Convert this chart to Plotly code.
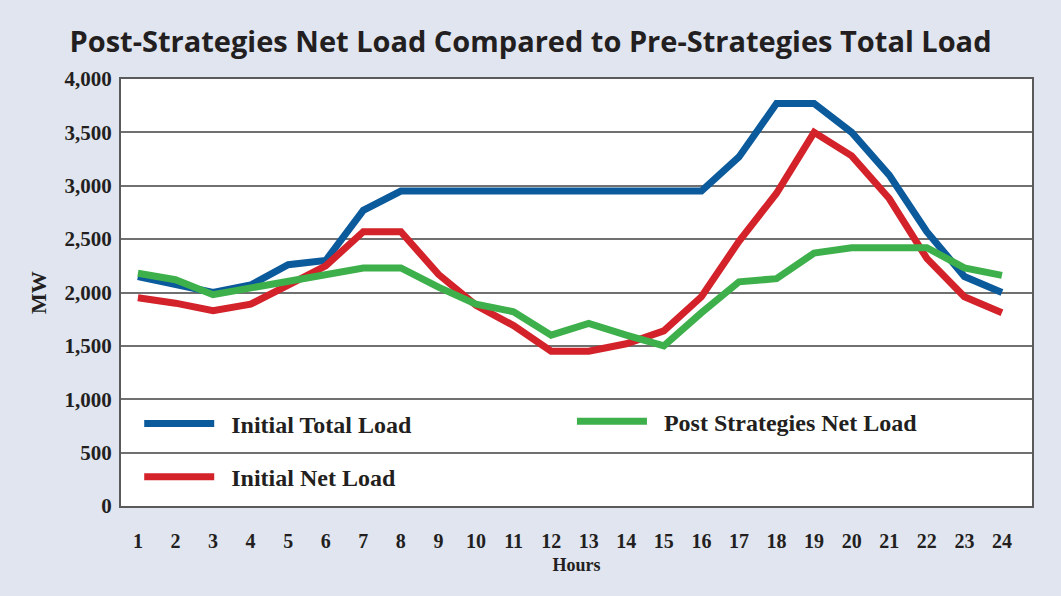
import plotly.graph_objects as go

hours = list(range(1, 25))
initial_total = [2150, 2070, 2000, 2070, 2260, 2300, 2770, 2950, 2950, 2950, 2950, 2950,
                 2950, 2950, 2950, 2950, 3270, 3770, 3770, 3500, 3100, 2570, 2150, 2000]
initial_net = [1950, 1900, 1830, 1890, 2070, 2250, 2570, 2570, 2170, 1880, 1690, 1450,
               1450, 1520, 1640, 1960, 2480, 2930, 3500, 3280, 2880, 2320, 1960, 1810]
post_net = [2180, 2120, 1980, 2040, 2110, 2160, 2230, 2230, 2050, 1890, 1820, 1600,
            1710, 1600, 1500, 1810, 2100, 2130, 2370, 2420, 2420, 2420, 2230, 2160]
y_ticks = [0, 500, 1000, 1500, 2000, 2500, 3000, 3500, 4000]
y_tick_labels = ["0", "500", "1,000", "1,500", "2,000", "2,500", "3,000", "3,500", "4,000"]

BLUE = "#0b5a9b"
RED = "#d3222a"
GREEN = "#3db04b"
BG = "#e0e5f0"
INK = "#231f20"
SERIF = "Liberation Serif, Times New Roman, serif"

fig = go.Figure()
fig.add_trace(go.Scatter(x=hours, y=initial_total, name="\u2002Initial Total Load", mode="lines",
                         line=dict(color=BLUE, width=7), legend="legend", legendgroup="a"))
fig.add_trace(go.Scatter(x=hours, y=initial_net, name="\u2002Initial Net Load", mode="lines",
                         line=dict(color=RED, width=7), legend="legend", legendgroup="b"))
fig.add_trace(go.Scatter(x=hours, y=post_net, name="\u2002Post Strategies Net Load", mode="lines",
                         line=dict(color=GREEN, width=7), legend="legend2"))

legend_font = dict(family=SERIF, size=24, color=INK, weight="bold")
fig.update_layout(
    width=1061, height=596,
    paper_bgcolor=BG, plot_bgcolor="white",
    margin=dict(l=121, r=29, t=79, b=90),
    title=dict(text="Post-Strategies Net Load Compared to Pre-Strategies Total Load",
               x=0.5, xanchor="center", y=0.93, yanchor="middle",
               font=dict(family="Open Sans, sans-serif", size=29, color=INK, weight="bold")),
    legend=dict(x=0.02, y=0.245, xanchor="left", yanchor="top", bgcolor="rgba(0,0,0,0)",
                itemwidth=70, font=legend_font, traceorder="grouped", tracegroupgap=19),
    legend2=dict(x=0.495, y=0.25, xanchor="left", yanchor="top", bgcolor="rgba(0,0,0,0)",
                 itemwidth=70, font=legend_font),
    showlegend=True,
)
fig.update_xaxes(
    range=[0.55, 24.8], tickmode="array", tickvals=hours, ticktext=[str(h) for h in hours],
    showgrid=False, zeroline=False, ticks="", ticklabelstandoff=16,
    tickfont=dict(family=SERIF, size=20, color=INK, weight="bold"),
    title=dict(text="Hours", font=dict(family=SERIF, size=18, color=INK, weight="bold"), standoff=7),
    showline=True, linecolor="#5a5a5a", linewidth=2, mirror=True,
)
fig.update_yaxes(
    range=[0, 4000], tickmode="array", tickvals=y_ticks, ticktext=y_tick_labels,
    showgrid=True, gridcolor="#707070", gridwidth=2, zeroline=False, ticks="",
    ticklabelstandoff=3,
    tickfont=dict(family=SERIF, size=21, color=INK, weight="bold"),
    title=dict(text="MW", font=dict(family=SERIF, size=22, color=INK, weight="bold"), standoff=12),
    showline=True, linecolor="#5a5a5a", linewidth=2, mirror=True,
)
fig.write_html("out.html", config={"displayModeBar": False},
               post_script="document.body.style.margin='0';document.body.style.overflow='hidden';")
